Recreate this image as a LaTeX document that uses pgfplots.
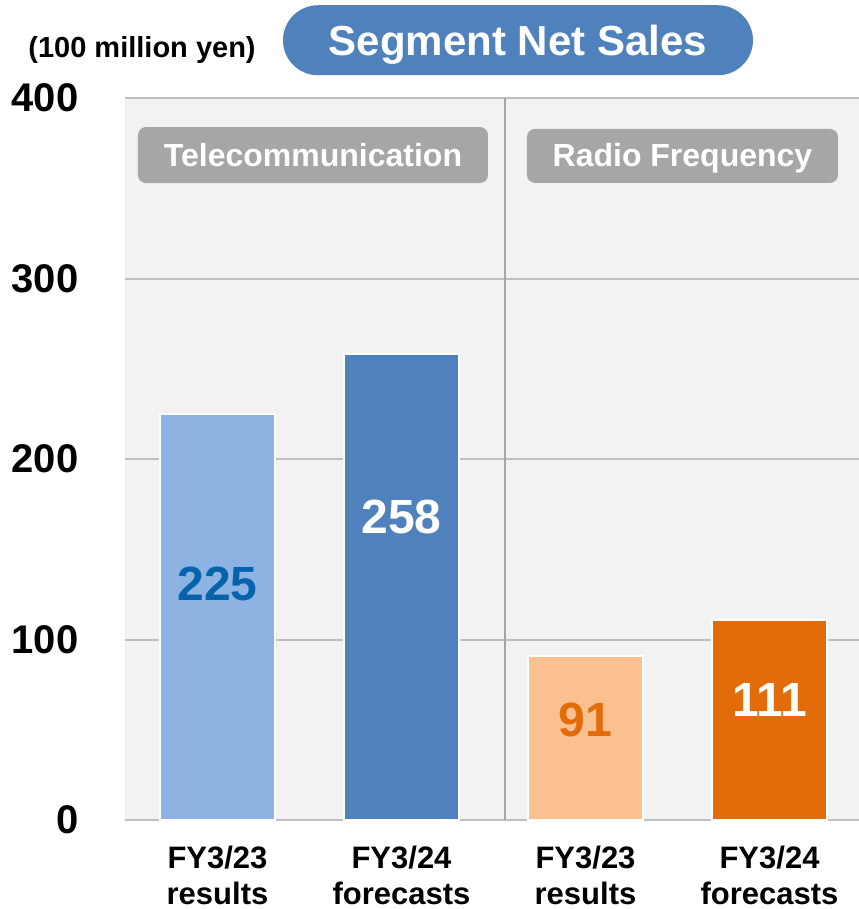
\documentclass[border=0pt]{standalone}
\usepackage{pgfplots}
\pgfplotsset{compat=1.18}
\usepackage{fontspec}
\setmainfont{Liberation Sans}

\definecolor{plotbg}{HTML}{F2F2F2}
\definecolor{gridgray}{HTML}{BFBFBF}
\definecolor{sepgray}{HTML}{A6A6A6}
\definecolor{boxgray}{HTML}{A6A6A6}
\definecolor{lightblue}{HTML}{8DB3E2}
\definecolor{midblue}{HTML}{4F81BD}
\definecolor{darkblue}{HTML}{0563AC}
\definecolor{lightorange}{HTML}{FAC090}
\definecolor{orange}{HTML}{E36C0A}

\begin{document}
\begin{tikzpicture}
\begin{axis}[
    scale only axis,
    width=734pt, height=722pt,
    xmin=-0.503, xmax=3.486,
    ymin=0, ymax=400,
    clip=false,
    axis background/.style={fill=plotbg},
    axis line style={draw=none},
    major tick length=0pt,
    ytick={0,100,200,300,400},
    ymajorgrids,
    grid style={gridgray, line width=2pt},
    xtick={0,1,2,3},
    xticklabels={{FY3/23\\results},{FY3/24\\forecasts},{FY3/23\\results},{FY3/24\\forecasts}},
    xticklabel style={align=center, font=\fontsize{31}{36}\selectfont\bfseries, yshift=-22pt},
    yticklabel style={font=\fontsize{40}{44}\selectfont\bfseries, xshift=-43pt},
    /pgf/number format/assume math mode=true,
    ybar, bar width=115pt,
    every axis plot/.append style={bar shift=0pt, draw=white, line width=2pt},
]
    \addplot[fill=lightblue] coordinates {(0,225)};
    \addplot[fill=midblue] coordinates {(1,258)};
    \addplot[fill=lightorange] coordinates {(2,91)};
    \addplot[fill=orange] coordinates {(3,111)};

    % separator between segments
    \draw[sepgray, line width=2pt] (axis cs:1.565,0) -- (axis cs:1.565,400);

    % value labels
    \node[font=\fontsize{48}{52}\selectfont\bfseries, text=darkblue] at (axis cs:0,130.5) {225};
    \node[font=\fontsize{48}{52}\selectfont\bfseries, text=white] at (axis cs:1,168) {258};
    \node[font=\fontsize{48}{52}\selectfont\bfseries, text=orange] at (axis cs:2,55.4) {91};
    \node[font=\fontsize{48}{52}\selectfont\bfseries, text=white] at (axis cs:3,66.5) {111};

    % segment boxes
    \node[fill=boxgray, rounded corners=8pt, minimum width=350pt, minimum height=56pt] at (axis cs:0.519,368.4) {};
    \node[anchor=base, text=white, font=\fontsize{32}{36}\selectfont\bfseries] at (axis cs:0.519,361.8) {Telecommunication};
    \node[fill=boxgray, rounded corners=8pt, minimum width=311pt, minimum height=54pt] at (axis cs:2.527,367.9) {};
    \node[anchor=base, text=white, font=\fontsize{32}{36}\selectfont\bfseries] at (axis cs:2.527,361.8) {Radio Frequency};

    % title pill
    \node[fill=midblue, rounded corners=35pt, minimum width=470pt, minimum height=70pt] at (axis cs:1.633,432) {};
    \node[anchor=base, text=white, font=\fontsize{42}{46}\selectfont\bfseries] at (axis cs:1.633,423.8) {Segment Net Sales};
    \node[anchor=base, font=\fontsize{29}{32}\selectfont\bfseries] at (axis cs:-0.41,422.7) {(100 million yen)};

    \coordinate (bbA) at (axis cs:-1.182,-49.3);
    \coordinate (bbB) at (axis cs:3.486,454.3);
\end{axis}
\pgfresetboundingbox
\useasboundingbox (bbA) rectangle (bbB);
\end{tikzpicture}
\end{document}
